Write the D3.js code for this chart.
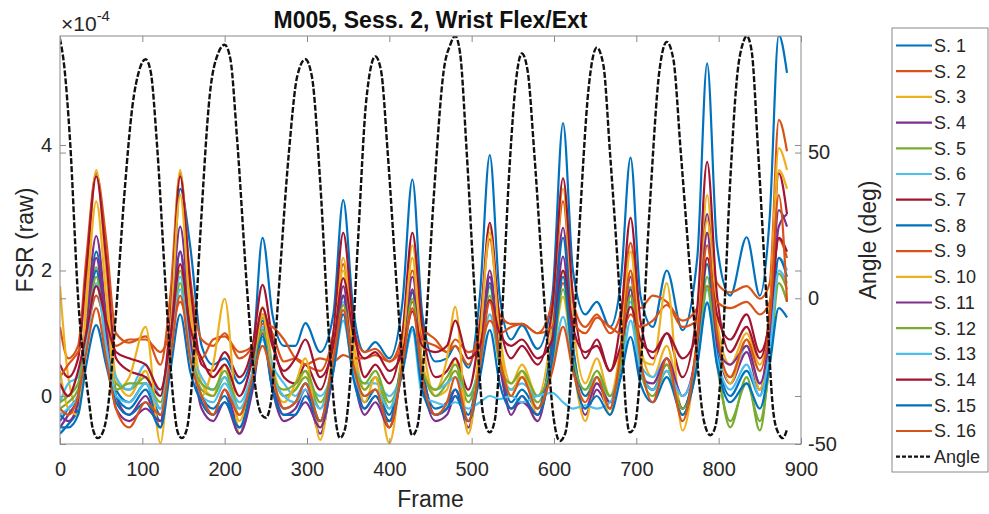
<!DOCTYPE html>
<html>
<head>
<meta charset="utf-8">
<script src="https://cdn.jsdelivr.net/npm/d3@7"></script>
<style>
  body { margin: 0; background: #fff; }
  svg { display: block; font-family: "Liberation Sans", Arial, Helvetica, sans-serif; }
</style>
</head>
<body>
<div id="chart"></div>
<script>
// FSR values are in units of 1e-4 (the axis shows the x10^-4 multiplier)
const frames = [0,10,22,32,44,56,68,84,104,122,134,146,158,172,186,200,218,234,246,258,272,286,298,316,332,344,356,370,383,400,416,428,440,456,470,480,496,510,522,534,548,561,580,598,611,623,638,652,668,681,693,705,720,737,756,774,786,798,814,834,850,862,873,883];

const s1  = [-0.6,-0.45,-0.2,0.9,2.3, 1.2,0.1,-0.1,0.2,-0.3, 0.8,3.3,2.4,0.8,0.5, 0.6,0.2,0.7,2.52,1.3, 0.8,0.8,1.16,0.7,1.3, 3.12,1.4,0.7,0.86,0.6, 1.5,3.45,1.3,0.55,0.6, 0.8,0.45,1.6,3.84,1.6, 0.9,1.13,0.75,1.6,4.35, 2.0,1.3,1.5,1.1,1.8, 3.8,1.6,1.1,2.0,1.05, 2.2,5.3,2.4,1.6,2.53, 1.6,2.85,5.75,5.15];
const s2  = [1.1,0.6,0.8,2.2,3.55, 2.5,1.0,0.85,0.95,0.5, 1.6,3.55,1.9,0.9,0.8, 1.0,0.6,0.8,1.3,1.0, 0.55,0.6,0.5,0.4,1.0, 2.1,1.1,0.7,0.75,0.55, 1.0,2.0,1.1,0.9,0.7, 0.8,0.5,1.2,2.5,1.3, 1.15,1.15,1.0,1.5,3.1, 1.5,1.1,1.3,1.0,1.3, 2.44,1.4,1.6,1.5,1.2, 1.4,2.6,1.8,1.65,1.75, 1.55,1.8,4.4,3.9];
const s3  = [1.75,0.3,-0.2,1.6,3.6, 2.0,0.3,0.0,0.4,-0.5, 1.2,3.6,1.5,0.2,0.0, 0.5,-0.4,0.4,1.42,0.5, 0.0,0.1,0.4,-0.5,0.8, 2.2,0.9,0.1,0.3,-0.5, 0.8,2.4,0.9,0.0,0.1, 0.6,-0.6,0.8,2.7,1.0, 0.2,0.5,0.0,1.2,3.3, 1.2,0.2,0.6,0.0,0.8, 2.3,0.8,0.3,0.8,-0.2, 1.0,3.2,1.2,0.5,1.0, 0.5,1.4,3.95,3.6];
const s4  = [-0.3,-0.4,-0.1,1.2,2.55, 1.3,0.0,-0.3,0.0,-0.5, 1.0,2.7,1.2,-0.1,-0.3, 0.1,-0.5,0.2,1.1,0.2, -0.3,-0.2,0.1,-0.6,0.5, 1.75,0.5,-0.2,0.0,-0.4, 0.6,1.9,0.5,-0.3,-0.2, 0.1,-0.5,0.6,2.0,0.6, -0.3,0.0,-0.4,0.9,2.68, 0.8,-0.3,0.1,-0.2,0.6, 1.9,0.4,0.1,0.5,-0.2, 0.9,2.9,0.9,0.2,0.7, 0.1,1.1,2.96,2.7];
const s5  = [-0.2,-0.1,0.1,1.0,2.05, 0.9,0.2,0.1,0.3,-0.2, 0.8,2.0,0.8,0.1,0.0, 0.3,-0.3,0.4,1.25,0.4, 0.0,0.1,0.3,-0.2,0.6, 1.6,0.6,0.1,0.3,-0.2, 0.6,1.65,0.5,0.0,0.2, 0.4,-0.1,0.6,1.74,0.6, 0.1,0.3,-0.1,0.7,2.0, 0.7,0.0,0.3,-0.1,0.6, 1.74,0.5,0.1,0.5,-0.3, 0.6,1.9,0.6,-0.5,0.3, -0.55,0.6,1.95,1.7];
const s6  = [-0.1,0.2,0.3,1.0,2.0, 0.9,0.3,0.1,0.5,0.0, 0.8,1.9,0.8,0.3,0.1, 0.3,-0.1,0.4,1.1,0.5, 0.2,0.0,0.2,0.0,0.5, 1.5,0.6,0.2,0.2,0.0, 0.4,1.05,0.4,0.1,0.2, 0.3,0.0,0.5,1.3,0.5, 0.1,0.2,0.0,0.5,1.26, 0.5,0.1,0.3,0.0,0.5, 1.5,0.5,0.3,0.6,0.0, 0.6,1.7,0.7,0.3,0.8, 0.2,0.8,2.2,2.0];
const s7  = [0.5,0.3,0.6,2.0,3.5, 2.2,0.6,0.4,0.3,0.0, 1.2,3.5,1.8,0.5,0.4, 0.7,0.3,0.8,1.77,0.9, 0.3,0.2,0.5,0.1,1.0, 2.6,1.2,0.3,0.5,0.2, 1.0,2.6,1.1,0.3,0.4, 0.6,0.1,1.1,2.76,1.2, 0.6,0.8,0.5,1.4,3.47, 1.6,0.6,0.9,0.4,1.2, 2.84,1.2,0.6,1.0,0.3, 1.4,3.73,1.6,0.7,1.1, 0.6,1.3,3.55,2.9];
const s8  = [-0.4,-0.2,0.0,1.0,2.0, 0.9,0.0,-0.2,0.1,-0.4, 0.9,2.3,0.9,0.0,-0.2, 0.0,-0.6,0.3,1.2,0.3, -0.2,-0.1,0.2,-0.4,0.6, 1.6,0.5,-0.1,0.1,-0.3, 0.6,1.65,0.4,-0.2,-0.1, 0.1,-0.3,0.6,1.8,0.6, -0.1,0.1,-0.2,0.9,2.52, 0.8,0.0,0.2,-0.1,0.5, 1.6,0.4,0.1,0.4,-0.2, 0.7,2.1,0.7,0.0,0.4, 0.0,0.9,2.2,1.9];
const s9  = [0.3,0.5,0.7,1.0,1.6, 1.1,0.8,0.9,0.9,0.7, 1.0,1.5,1.0,0.6,0.9, 0.95,0.7,0.8,1.15,1.1, 0.9,0.6,0.5,0.6,0.55, 0.65,0.6,0.6,0.65,0.55, 0.8,1.5,0.9,0.8,0.7, 0.9,0.7,0.8,1.2,1.0, 1.1,1.15,1.0,1.1,1.8, 1.2,1.0,1.25,1.1,1.0, 1.3,1.1,1.2,1.45,1.1, 1.2,1.75,1.5,1.4,1.5, 1.3,1.5,2.5,2.2];
const s10 = [0.4,-0.2,-0.3,1.4,3.1, 1.6,0.1,0.3,1.1,-0.75, 1.0,3.2,1.3,0.0,0.5, 1.55,-0.6,0.2,1.3,0.3, -0.1,0.2,0.6,-0.7,0.7, 2.0,0.7,-0.1,0.3,-0.75, 0.7,2.2,0.5,0.1,0.6, 1.42,-0.6,0.9,2.6,0.9, 0.0,0.4,-0.3,0.6,1.58, 0.5,-0.4,0.3,-0.3,0.7, 2.0,0.6,0.5,1.8,-0.55, 0.9,2.8,1.1,0.2,0.9, 0.1,1.2,3.6,3.3];
const s11 = [-0.5,-0.3,0.0,1.0,2.2, 1.0,-0.2,-0.4,-0.2,-0.4, 0.9,2.3,0.9,-0.2,-0.4, -0.1,-0.6,0.1,1.0,0.1, -0.4,-0.3,-0.1,-0.5,0.4, 1.6,0.4,-0.3,-0.1,-0.5, 0.5,1.7,0.3,-0.4,-0.3, 0.0,-0.4,0.5,1.9,0.5, -0.2,-0.1,-0.3,0.7,2.22, 0.6,-0.2,0.2,-0.1,0.5, 1.7,0.3,0.2,0.6,0.0, 0.8,2.6,0.8,0.5,0.8, 0.2,1.0,2.7,2.9];
const s12 = [-0.1,0.0,0.2,0.9,1.9, 0.8,0.1,0.2,0.2,-0.1, 0.7,1.8,0.7,0.2,0.1, 0.4,-0.2,0.3,1.05,0.3, 0.1,0.2,0.4,-0.1,0.5, 1.45,0.5,0.2,0.4,-0.1, 0.5,1.55,0.4,0.1,0.3, 0.5,0.0,0.5,1.6,0.5, 0.2,0.4,0.0,0.6,1.7, 0.6,0.1,0.4,0.0,0.5, 1.6,0.4,0.0,0.4,-0.2, 0.5,1.75,0.5,-0.4,0.2, -0.4,0.5,1.8,1.5];
const s13 = [-0.3,-0.2,0.0,0.8,1.8, 0.8,0.0,-0.1,0.2,-0.2, 0.7,1.7,0.7,0.0,-0.1, 0.2,-0.2,0.3,0.9,0.3, 0.0,-0.1,0.1,-0.2,0.4, 1.2,0.4,0.0,0.1,-0.2, 0.4,1.05,0.0,-0.1,-0.15, -0.1,-0.2,-0.1,0.0,-0.05, 0.0,-0.1,0.0,0.05,-0.1, -0.2,-0.15,-0.2,-0.1,0.3, 1.2,0.4,0.1,0.4,0.0, 0.6,1.5,0.6,0.1,0.5, 0.0,0.7,2.0,1.8];
const s14 = [0.2,0.0,0.4,1.0,1.75, 1.2,0.7,0.6,0.5,0.1, 0.9,2.1,1.1,0.6,0.3, 0.5,0.0,0.6,1.4,0.8, 0.4,0.6,0.9,0.3,0.8, 1.88,1.0,0.6,0.7,0.4, 0.7,1.35,0.8,0.7,0.8, 1.2,0.6,0.8,1.53,1.0, 0.8,0.9,0.6,0.9,2.0, 1.1,0.7,0.8,0.4,0.8, 1.42,0.9,0.7,1.0,0.6, 1.0,2.2,1.3,0.9,1.3, 0.7,1.2,2.52,2.3];
const s15 = [-0.5,-0.5,-0.3,0.5,1.13, 0.5,-0.1,-0.3,-0.1,-0.5, 0.4,1.3,0.4,-0.1,-0.3, -0.1,-0.5,0.2,0.95,0.1, -0.3,-0.3,0.0,-0.4,0.4, 1.3,0.3,-0.2,0.0,-0.4, 0.4,1.1,0.1,-0.3,-0.2, 0.0,-0.4,0.3,1.05,0.2, -0.2,0.0,-0.3,0.6,1.9, 0.5,-0.2,0.0,-0.3,0.3, 0.94,0.2,-0.1,0.3,-0.3, 0.5,1.48,0.5,-0.1,0.2, -0.2,0.5,1.4,1.25];
const s16 = [-0.2,-0.3,0.0,0.7,1.4, 0.6,-0.2,-0.5,-0.1,-0.3, 0.6,1.6,0.6,0.0,-0.3, 0.1,-0.3,0.3,0.8,0.3, -0.2,-0.1,0.2,-0.4,0.6, 1.37,0.5,0.0,0.1,-0.5, 0.5,1.4,0.3,-0.3,-0.1, 0.3,-0.4,0.5,1.5,0.6, 0.0,0.3,-0.2,0.4,1.1, 0.4,-0.1,0.3,-0.2,0.7, 2.0,0.6,-0.1,0.6,-0.4, 0.9,2.4,1.0,0.3,0.9, 0.4,1.2,3.2,1.5];

const fsrSeries = [s1, s2, s3, s4, s5, s6, s7, s8, s9, s10, s11, s12, s13, s14, s15, s16];
const seriesNames = ["S. 1","S. 2","S. 3","S. 4","S. 5","S. 6","S. 7","S. 8","S. 9","S. 10","S. 11","S. 12","S. 13","S. 14","S. 15","S. 16"];

const angleFrames = [0,5,12,22,35,40,46,52,58,68,78,88,96,104,110,118,128,138,143,148,154,160,170,182,192,200,207,215,228,238,245,250,256,265,278,288,298,306,316,326,334,340,346,352,362,372,383,390,398,410,420,428,434,442,454,466,474,480,486,494,504,514,522,528,536,546,554,561,568,576,588,600,607,614,620,630,642,652,660,668,680,688,692,698,705,716,728,737,745,754,768,782,790,796,804,814,822,830,834,840,848,858,866,872,878,883];
const angleDeg = [89,80,55,0,-35,-45,-48,-46,-38,-5,35,66,78,82,78,52,5,-36,-46,-48,-45,-30,20,70,84,87,82,55,0,-32,-40,-41,-36,0,50,76,82,76,40,-10,-40,-48,-45,-30,20,68,83,78,50,0,-35,-47,-44,-20,35,78,87,90,84,50,0,-40,-46,-42,-10,45,75,84,78,50,0,-42,-49,-46,-30,20,72,86,80,50,0,-40,-46,-44,-25,30,78,88,82,50,0,-42,-47,-44,-20,40,75,88,90,85,50,0,-38,-46,-48,-45];

const xTicks = [0,100,200,300,400,500,600,700,800,900];
const yLeftTicks = [0,2,4];
const yRightTicks = [-50,0,50];

const colors = ["#0072BD","#D95319","#EDB120","#7E2F8E","#77AC30","#4DBEEE","#A2142F"];

const W = 989, H = 514;
const box = { left: 60, right: 801, top: 36, bottom: 444 };

const svg = d3.select("#chart").append("svg").attr("width", W).attr("height", H);

const x = d3.scaleLinear().domain([0, 900]).range([box.left, box.right]);
const yL = d3.scaleLinear().domain([-0.765, 5.737]).range([box.bottom, box.top]);
const yR = d3.scaleLinear().domain([-50, 90]).range([box.bottom, box.top]);

svg.append("defs").append("clipPath").attr("id", "plot")
  .append("rect").attr("x", box.left).attr("y", box.top)
  .attr("width", box.right - box.left).attr("height", box.bottom - box.top);

const plot = svg.append("g").attr("clip-path", "url(#plot)");

const fsrLine = d3.line().x((d, i) => x(frames[i])).y(d => yL(d)).curve(d3.curveMonotoneX);
fsrSeries.forEach((s, i) => {
  plot.append("path").attr("d", fsrLine(s)).attr("fill", "none")
    .attr("stroke", colors[i % colors.length]).attr("stroke-width", 2.2)
    .attr("stroke-linejoin", "round");
});

const angleLine = d3.line().x((d, i) => x(angleFrames[i])).y(d => yR(d)).curve(d3.curveMonotoneX);
plot.append("path").attr("d", angleLine(angleDeg)).attr("fill", "none")
  .attr("stroke", "#111").attr("stroke-width", 2.4).attr("stroke-dasharray", "6,2");

// axes box and ticks
const axisColor = "#8a8a8a", textColor = "#262626";
function styleAxis(g, showText) {
  g.select(".domain").remove();
  g.selectAll(".tick line").attr("stroke", axisColor);
  g.selectAll(".tick text").attr("fill", textColor).style("font-size", "20px")
    .style("display", showText ? null : "none");
}

svg.append("rect").attr("x", box.left).attr("y", box.top)
  .attr("width", box.right - box.left).attr("height", box.bottom - box.top)
  .attr("fill", "none").attr("stroke", axisColor).attr("stroke-width", 1);

svg.append("g").attr("transform", `translate(0,${box.bottom})`)
  .call(d3.axisBottom(x).tickValues(xTicks).tickSize(-6).tickPadding(18))
  .call(g => styleAxis(g, true));
svg.append("g").attr("transform", `translate(0,${box.top})`)
  .call(d3.axisTop(x).tickValues(xTicks).tickSize(-6))
  .call(g => styleAxis(g, false));

svg.append("g").attr("transform", `translate(${box.left},0)`)
  .call(d3.axisLeft(yL).tickValues(yLeftTicks).tickSize(-6).tickPadding(8).tickFormat(d3.format("d")))
  .call(g => styleAxis(g, true));
svg.append("g").attr("transform", `translate(${box.right},0)`)
  .call(d3.axisRight(yL).tickValues(yLeftTicks).tickSize(-6))
  .call(g => styleAxis(g, false));

svg.append("g").attr("transform", `translate(${box.right},0)`)
  .call(d3.axisRight(yR).tickValues(yRightTicks).tickSize(-6).tickPadding(7).tickFormat(d3.format("d")))
  .call(g => styleAxis(g, true));
svg.append("g").attr("transform", `translate(${box.left},0)`)
  .call(d3.axisLeft(yR).tickValues(yRightTicks).tickSize(-6))
  .call(g => styleAxis(g, false));
svg.selectAll(".tick text").text(function () { return this.textContent.replace("\u2212", "-"); });

// labels
const mult = svg.append("text").attr("x", 61).attr("y", 31).attr("fill", textColor).style("font-size", "21px");
mult.append("tspan").text("\u00d710");
mult.append("tspan").attr("dy", -10).style("font-size", "15px").text("-4");

svg.append("text").attr("x", (box.left + box.right) / 2).attr("y", 28)
  .attr("text-anchor", "middle").attr("fill", "#111").style("font-size", "23px").style("font-weight", "bold")
  .text("M005, Sess. 2, Wrist Flex/Ext");

svg.append("text").attr("x", (box.left + box.right) / 2).attr("y", 507)
  .attr("text-anchor", "middle").attr("fill", textColor).style("font-size", "23px").text("Frame");

svg.append("text").attr("transform", `translate(33,${(box.top + box.bottom) / 2}) rotate(-90)`)
  .attr("text-anchor", "middle").attr("fill", textColor).style("font-size", "23px").text("FSR (raw)");

svg.append("text").attr("transform", `translate(876,${(box.top + box.bottom) / 2}) rotate(-90)`)
  .attr("text-anchor", "middle").attr("fill", textColor).style("font-size", "23px").text("Angle (deg)");

// legend
const legend = svg.append("g");
legend.append("rect").attr("x", 892).attr("y", 28).attr("width", 96).attr("height", 444)
  .attr("fill", "#fff").attr("stroke", axisColor).attr("stroke-width", 1);
const legendItems = seriesNames.map((n, i) => ({ name: n, color: colors[i % colors.length], dash: null }))
  .concat([{ name: "Angle", color: "#111", dash: "4,2" }]);
legendItems.forEach((item, i) => {
  const yy = 45.5 + i * 25.7;
  legend.append("line").attr("x1", 896).attr("x2", 932).attr("y1", yy).attr("y2", yy)
    .attr("stroke", item.color).attr("stroke-width", 2.2).attr("stroke-dasharray", item.dash);
  legend.append("text").attr("x", 934).attr("y", yy).attr("dy", "0.35em")
    .attr("fill", textColor).style("font-size", "18px").text(item.name);
});
</script>
</body>
</html>
